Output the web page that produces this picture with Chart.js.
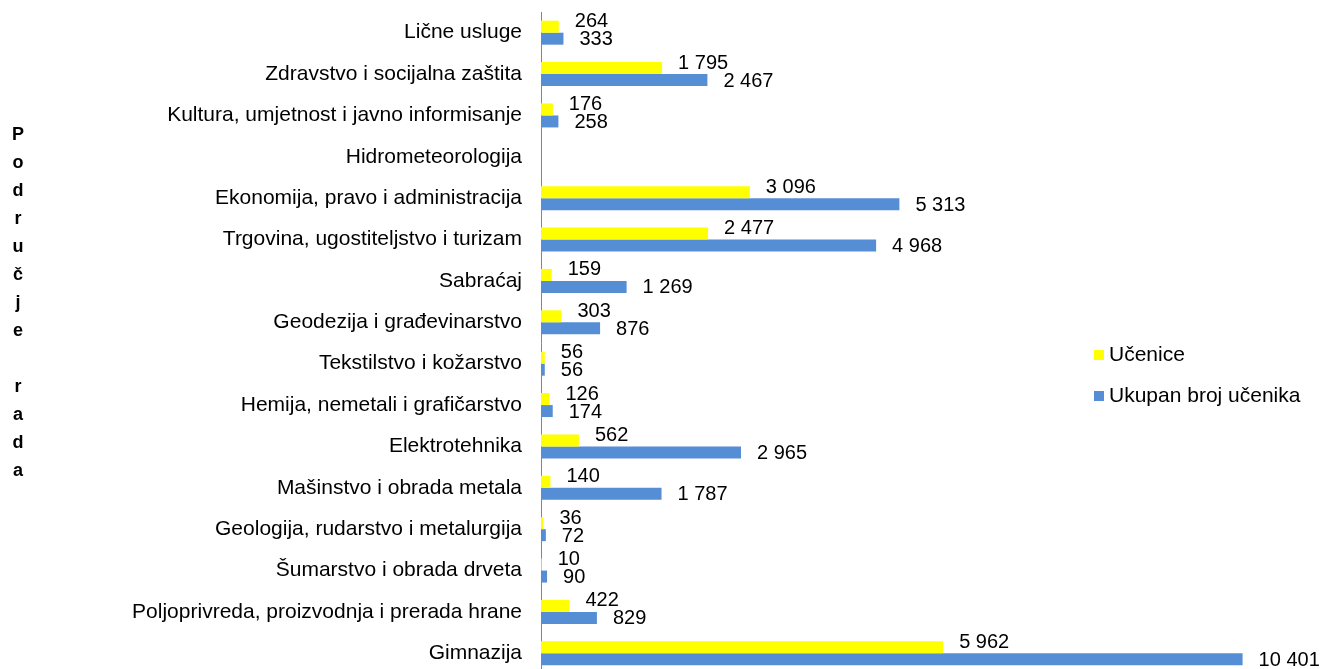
<!DOCTYPE html>
<html>
<head>
<meta charset="utf-8">
<script src="https://cdn.jsdelivr.net/npm/chart.js@4/dist/chart.umd.min.js"></script>
<style>
html,body{margin:0;padding:0;background:#fff;overflow:hidden;width:1322px;height:669px;}
#wrap{position:relative;width:1322px;height:680px;}
</style>
</head>
<body>
<div id="wrap"><canvas id="c"></canvas></div>
<script>
const categories = [
  'Lične usluge',
  'Zdravstvo i socijalna zaštita',
  'Kultura, umjetnost i javno informisanje',
  'Hidrometeorologija',
  'Ekonomija, pravo i administracija',
  'Trgovina, ugostiteljstvo i turizam',
  'Sabraćaj',
  'Geodezija i građevinarstvo',
  'Tekstilstvo i kožarstvo',
  'Hemija, nemetali i grafičarstvo',
  'Elektrotehnika',
  'Mašinstvo i obrada metala',
  'Geologija, rudarstvo i metalurgija',
  'Šumarstvo i obrada drveta',
  'Poljoprivreda, proizvodnja i prerada hrane',
  'Gimnazija'
];
const ucenice = [264, 1795, 176, null, 3096, 2477, 159, 303, 56, 126, 562, 140, 36, 10, 422, 5962];
const ukupno  = [333, 2467, 258, null, 5313, 4968, 1269, 876, 56, 174, 2965, 1787, 72, 90, 829, 10401];
const seriesNames = ['Učenice', 'Ukupan broj učenika'];
const axisTitle = 'Područje rada';

const FONT = "'Liberation Sans', Arial, sans-serif";

function fmt(v){ return String(v).replace(/\B(?=(\d{3})+(?!\d))/g, ' '); }

const labelPlugin = {
  id: 'valueLabels',
  afterDatasetsDraw(chart){
    const ctx = chart.ctx;
    ctx.save();
    ctx.font = '20px ' + FONT;
    ctx.fillStyle = '#000';
    ctx.textAlign = 'left';
    ctx.textBaseline = 'middle';
    chart.data.datasets.forEach((ds, di) => {
      const meta = chart.getDatasetMeta(di);
      const dy = di === 0 ? -5 : 1;
      meta.data.forEach((bar, i) => {
        const v = ds.data[i];
        if (v === null || v === undefined) return;
        ctx.fillText(fmt(v), bar.x + 16, bar.y + dy);
      });
    });
    ctx.restore();
  }
};

const legendPlugin = {
  id: 'customLegend',
  afterDraw(chart){
    const ctx = chart.ctx;
    ctx.save();
    ctx.font = '21px ' + FONT;
    ctx.textBaseline = 'middle';
    ctx.textAlign = 'left';
    const x = 1094, y0 = 355, step = 41;
    chart.data.datasets.forEach((ds, i) => {
      const y = y0 + i * step;
      ctx.fillStyle = ds.backgroundColor;
      ctx.fillRect(x, y - 5, 10, 10);
      ctx.fillStyle = '#000';
      ctx.fillText(ds.label, x + 15, y);
    });
    ctx.restore();
  }
};

const titlePlugin = {
  id: 'stackedTitle',
  afterDraw(chart){
    const ctx = chart.ctx;
    ctx.save();
    ctx.font = 'bold 18px ' + FONT;
    ctx.fillStyle = '#000';
    ctx.textAlign = 'center';
    ctx.textBaseline = 'alphabetic';
    const chars = Array.from(axisTitle);
    chars.forEach((ch, i) => {
      ctx.fillText(ch, 18, 140 + i * 28);
    });
    ctx.restore();
  }
};

new Chart(document.getElementById('c'), {
  type: 'bar',
  data: {
    labels: categories,
    datasets: [
      { label: seriesNames[0], data: ucenice, backgroundColor: '#FFFF00', borderWidth: 0 },
      { label: seriesNames[1], data: ukupno, backgroundColor: '#558ED5', borderWidth: 0 }
    ]
  },
  options: {
    indexAxis: 'y',
    responsive: true,
    maintainAspectRatio: false,
    animation: false,
    categoryPercentage: 0.58,
    barPercentage: 1.0,
    layout: { padding: { top: 12, bottom: 6, left: 0, right: 39 } },
    plugins: { legend: { display: false }, tooltip: { enabled: false } },
    scales: {
      x: { display: false, min: 0, max: 11000 },
      y: {
        afterFit(scale){ scale.width = 541; scale.paddingTop = 0; scale.paddingBottom = 0; },
        grid: { display: false, drawTicks: false },
        border: { display: true, color: '#868686', width: 1 },
        ticks: { color: '#000', font: { family: FONT, size: 21 }, padding: 19, autoSkip: false }
      }
    }
  },
  plugins: [labelPlugin, legendPlugin, titlePlugin]
});
</script>
</body>
</html>
